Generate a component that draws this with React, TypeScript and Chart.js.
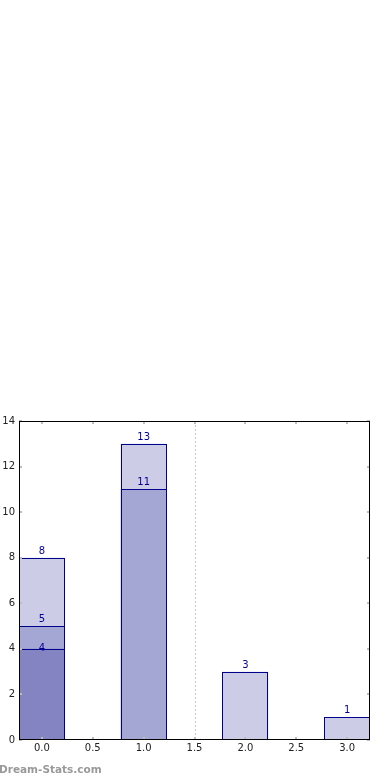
import React, { useEffect, useRef } from "react";
import { Chart, registerables } from "chart.js";

Chart.register(...registerables);

// Data
const positions = [0, 1, 2, 3];
const totalValues = [8, 13, 3, 1];
const midPositions = [0, 1];
const midValues = [5, 11];
const lowPositions = [0];
const lowValues = [4];
const dividerX = 1.5;
const watermark = "Dream-Stats.com";

const toPoints = (xs: number[], ys: number[]) => xs.map((x, i) => ({ x, y: ys[i] }));

const FONT = "'DejaVu Sans', sans-serif";
const EDGE = "#00008c";

const overlay = {
  id: "overlay",
  afterDatasetsDraw(chart: any) {
    const { ctx, chartArea, scales } = chart;
    const { left, right, top, bottom } = chartArea;
    const x = scales.x;
    const y = scales.y;
    ctx.save();
    // dotted divider
    ctx.strokeStyle = "#c8c8c8";
    ctx.lineWidth = 1;
    ctx.setLineDash([2, 2]);
    const px = Math.round(x.getPixelForValue(dividerX)) + 0.5;
    ctx.beginPath();
    ctx.moveTo(px, top);
    ctx.lineTo(px, bottom);
    ctx.stroke();
    ctx.setLineDash([]);

    // bar outlines (crisp)
    ctx.strokeStyle = EDGE;
    ctx.lineWidth = 1;
    chart.data.datasets.forEach((ds: any, i: number) => {
      const meta = chart.getDatasetMeta(i);
      meta.data.forEach((bar: any) => {
        const l = Math.round(bar.x - bar.width / 2) + 0.5;
        const r = Math.min(Math.round(bar.x + bar.width / 2), right) - 0.5;
        const t = Math.round(bar.y) + 0.5;
        const b = Math.round(bar.base) - 0.5;
        ctx.strokeRect(l, t, r - l, b - t);
      });
    });

    // inner tick marks
    ctx.strokeStyle = "#bdbdbd";
    ctx.lineWidth = 2;
    const tl = 3;
    x.ticks.forEach((t: any) => {
      const p = Math.round(x.getPixelForValue(t.value));
      ctx.beginPath();
      ctx.moveTo(p, bottom);
      ctx.lineTo(p, bottom - tl);
      ctx.moveTo(p, top);
      ctx.lineTo(p, top + tl);
      ctx.stroke();
    });
    y.ticks.forEach((t: any) => {
      const p = Math.round(y.getPixelForValue(t.value));
      ctx.beginPath();
      ctx.moveTo(left, p);
      ctx.lineTo(left + tl, p);
      ctx.moveTo(right, p);
      ctx.lineTo(right - tl, p);
      ctx.stroke();
    });

    // value labels
    ctx.fillStyle = "#000099";
    ctx.font = `10px ${FONT}`;
    ctx.textAlign = "center";
    ctx.textBaseline = "alphabetic";
    chart.data.datasets.forEach((ds: any, i: number) => {
      const meta = chart.getDatasetMeta(i);
      const off = ds.labelOffset ?? 4;
      meta.data.forEach((bar: any, j: number) => {
        ctx.fillText(String(ds.data[j].y), bar.x, bar.y - off);
      });
    });

    // frame
    ctx.strokeStyle = "#000000";
    ctx.lineWidth = 1;
    ctx.strokeRect(left + 0.5, top + 0.5, right - left - 1, bottom - top - 1);

    // watermark
    ctx.fillStyle = "#999999";
    ctx.font = `bold 10.5px ${FONT}`;
    ctx.textAlign = "left";
    ctx.textBaseline = "middle";
    ctx.fillText(watermark, -1, 770);
    ctx.restore();
  },
};

export default function App() {
  const ref = useRef<HTMLCanvasElement>(null);
  useEffect(() => {
    if (!ref.current) return;
    const chart = new Chart(ref.current, {
      type: "bar",
      data: {
        datasets: [
          {
            data: toPoints(lowPositions, lowValues),
            backgroundColor: "rgb(132,132,194)",
            borderWidth: 0,
            labelOffset: -2,
          } as any,
          {
            data: toPoints(midPositions, midValues),
            backgroundColor: "rgb(164,166,212)",
            borderWidth: 0,
            labelOffset: 4,
          } as any,
          {
            data: toPoints(positions, totalValues),
            backgroundColor: "rgb(204,204,230)",
            borderWidth: 0,
            labelOffset: 4,
          } as any,
        ],
      },
      options: {
        responsive: false,
        animation: false,
        grouped: false,
        barPercentage: 0.9,
        categoryPercentage: 1,
        layout: { padding: { top: 421, right: 20, left: 0, bottom: 0 } },
        plugins: { legend: { display: false }, tooltip: { enabled: false } },
        scales: {
          x: {
            type: "linear",
            offset: false,
            min: -0.225,
            max: 3.225,
            grid: { display: false, drawTicks: false },
            border: { display: false },
            ticks: {
              stepSize: 0.5,
              includeBounds: false,
              padding: 2,
              color: "#222",
              font: { family: FONT, size: 10 },
              maxRotation: 0,
              callback: (v: any) => Number(v).toFixed(1),
            },
            afterFit: (s: any) => {
              s.height = 40;
            },
          },
          y: {
            min: 0,
            max: 14,
            grid: { display: false, drawTicks: false },
            border: { display: false },
            ticks: {
              stepSize: 2,
              padding: 4,
              color: "#222",
              font: { family: FONT, size: 10 },
            },
            afterFit: (s: any) => {
              s.width = 19;
            },
          },
        },
      } as any,
      plugins: [overlay],
    });
    return () => chart.destroy();
  }, []);
  return (
    <div style={{ position: "fixed", left: 0, top: 0, width: 390, height: 780 }}>
      <canvas ref={ref} width={390} height={780} style={{ display: "block" }} />
    </div>
  );
}
